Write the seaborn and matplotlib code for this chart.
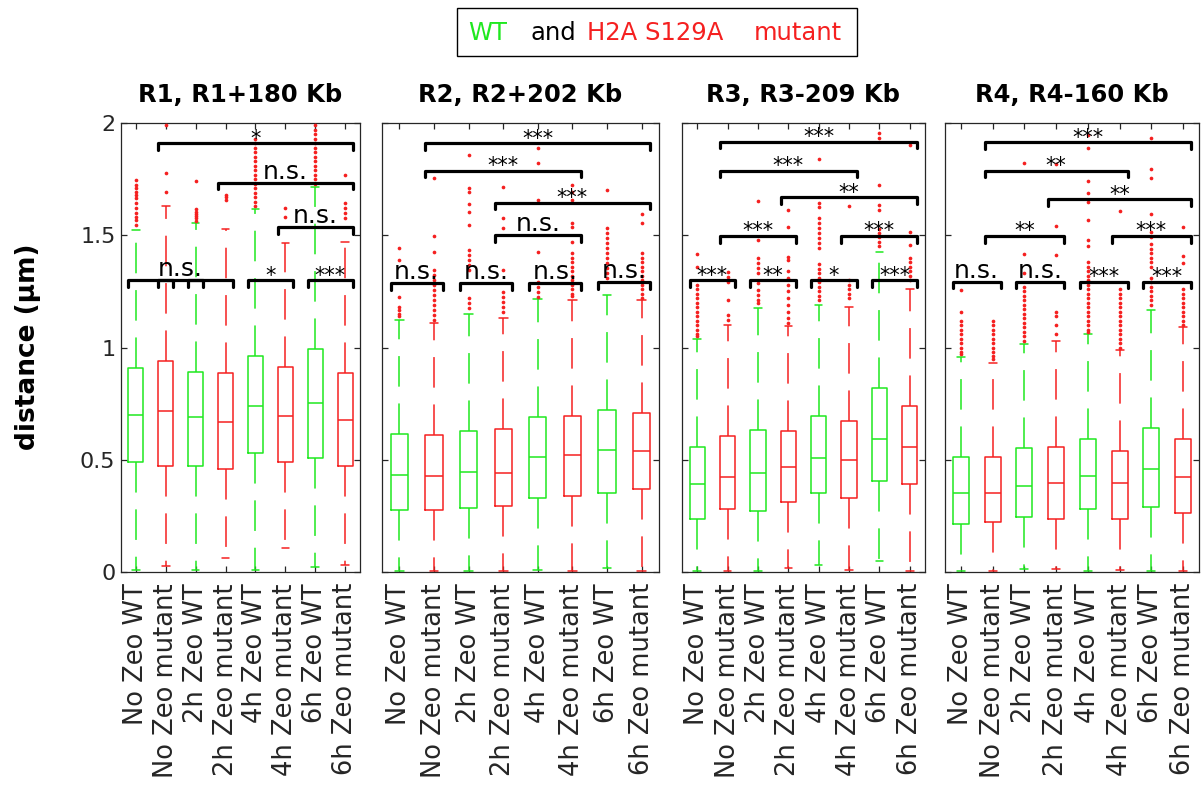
import numpy as np
import pandas as pd
import matplotlib
matplotlib.use("Agg")
import matplotlib.pyplot as plt
from matplotlib.patches import Rectangle
import seaborn as sns

# ---------------- data ----------------
titles = ["R1, R1+180 Kb", "R2, R2+202 Kb", "R3, R3-209 Kb", "R4, R4-160 Kb"]
conditions = ["No Zeo WT", "No Zeo mutant", "2h Zeo WT", "2h Zeo mutant",
              "4h Zeo WT", "4h Zeo mutant", "6h Zeo WT", "6h Zeo mutant"]
strains = ["WT", "mutant"] * 4

medians = [
    [0.699, 0.719, 0.690, 0.667, 0.738, 0.696, 0.754, 0.678],
    [0.432, 0.426, 0.444, 0.442, 0.512, 0.523, 0.542, 0.540],
    [0.392, 0.425, 0.440, 0.469, 0.508, 0.499, 0.592, 0.555],
    [0.350, 0.353, 0.385, 0.395, 0.429, 0.398, 0.459, 0.422],
]
q1 = [
    [0.491, 0.474, 0.472, 0.459, 0.529, 0.491, 0.506, 0.474],
    [0.276, 0.278, 0.284, 0.296, 0.331, 0.340, 0.353, 0.371],
    [0.236, 0.279, 0.270, 0.313, 0.350, 0.331, 0.407, 0.391],
    [0.212, 0.224, 0.244, 0.236, 0.279, 0.236, 0.291, 0.261],
]
q3 = [
    [0.907, 0.941, 0.889, 0.888, 0.964, 0.913, 0.992, 0.886],
    [0.615, 0.612, 0.629, 0.638, 0.689, 0.696, 0.722, 0.708],
    [0.558, 0.607, 0.634, 0.629, 0.696, 0.673, 0.818, 0.739],
    [0.512, 0.514, 0.551, 0.555, 0.592, 0.539, 0.640, 0.594],
]
whisk_hi = [
    [1.523, 1.632, 1.556, 1.526, 1.617, 1.464, 1.716, 1.471],
    [1.122, 1.111, 1.149, 1.133, 1.216, 1.213, 1.232, 1.211],
    [1.036, 1.100, 1.178, 1.096, 1.189, 1.182, 1.427, 1.259],
    [0.959, 0.930, 1.014, 1.029, 1.060, 0.989, 1.167, 1.090],
]
whisk_lo = [
    [0.008, 0.028, 0.008, 0.064, 0.008, 0.108, 0.024, 0.031],
    [0.005, 0.005, 0.005, 0.005, 0.008, 0.005, 0.020, 0.005],
    [0.005, 0.005, 0.005, 0.019, 0.031, 0.010, 0.050, 0.005],
    [0.005, 0.005, 0.012, 0.015, 0.005, 0.008, 0.005, 0.005],
]
outliers = [
    [
        [1.546, 1.568, 1.583, 1.598, 1.620, 1.643, 1.665, 1.680, 1.694, 1.709, 1.724, 1.746],
        [1.694, 1.776, 1.991],
        [1.565, 1.575, 1.585, 1.595, 1.605, 1.615, 1.741],
        [1.658, 1.670, 1.680],
        [1.63, 1.65, 1.67, 1.69, 1.71, 1.73, 1.75, 1.77, 1.79, 1.81, 1.83, 1.85, 1.87,
         1.89, 1.91, 1.93],
        [1.583, 1.620],
        [1.73, 1.75, 1.77, 1.79, 1.81, 1.83, 1.85, 1.87, 1.89, 1.91, 1.93, 1.95, 1.97, 1.99],
        [1.575, 1.598, 1.620, 1.643, 1.768],
    ],
    [
        [1.14, 1.15, 1.165, 1.18, 1.226, 1.390, 1.442],
        [1.122, 1.145, 1.167, 1.189, 1.211, 1.234, 1.256, 1.279, 1.301, 1.323, 1.345,
         1.427, 1.497, 1.757],
        [1.174, 1.196, 1.219, 1.345, 1.367, 1.390, 1.412, 1.434, 1.546, 1.605, 1.639,
         1.694, 1.709, 1.857],
        [1.159, 1.182, 1.204, 1.226, 1.249, 1.345, 1.531, 1.579, 1.716],
        [1.226, 1.249, 1.271, 1.293, 1.427, 1.657, 1.820, 1.887],
        [1.23, 1.24, 1.26, 1.28, 1.30, 1.32, 1.34, 1.36, 1.38, 1.40, 1.42, 1.471, 1.538,
         1.553, 1.657, 1.694, 1.724],
        [1.308, 1.330, 1.353, 1.375, 1.397, 1.419, 1.442, 1.464, 1.486, 1.508, 1.531, 1.701],
        [1.22, 1.24, 1.26, 1.28, 1.30, 1.32, 1.34, 1.36, 1.38, 1.40, 1.42, 1.553, 1.594],
    ],
    [
        [1.05, 1.06, 1.08, 1.10, 1.12, 1.14, 1.16, 1.18, 1.20, 1.22, 1.24, 1.26, 1.28,
         1.360, 1.417],
        [1.122, 1.145, 1.211, 1.293, 1.316, 1.338],
        [1.196, 1.211, 1.234, 1.256, 1.286, 1.330, 1.353, 1.375, 1.397, 1.479, 1.654],
        [1.11, 1.13, 1.16, 1.19, 1.22, 1.25, 1.28, 1.31, 1.34, 1.390, 1.404, 1.535, 1.612],
        [1.21, 1.23, 1.25, 1.27, 1.29, 1.31, 1.33, 1.35, 1.37, 1.441, 1.464, 1.486, 1.508,
         1.531, 1.553, 1.575, 1.627, 1.643, 1.838],
        [1.22, 1.24, 1.26, 1.28, 1.30, 1.629],
        [1.45, 1.47, 1.49, 1.51, 1.53, 1.612, 1.635, 1.724, 1.932, 1.957],
        [1.30, 1.32, 1.34, 1.36, 1.38, 1.40, 1.456, 1.516, 1.902],
    ],
    [
        [0.97, 0.98, 1.00, 1.02, 1.04, 1.06, 1.08, 1.10, 1.12, 1.160, 1.256],
        [0.95, 0.96, 0.98, 1.00, 1.02, 1.04, 1.06, 1.08, 1.10, 1.12],
        [1.03, 1.05, 1.07, 1.09, 1.11, 1.13, 1.15, 1.17, 1.19, 1.21, 1.23, 1.25, 1.27,
         1.331, 1.417, 1.820],
        [1.06, 1.10, 1.14, 1.16, 1.412, 1.541, 1.816],
        [1.07, 1.08, 1.10, 1.12, 1.14, 1.16, 1.18, 1.20, 1.22, 1.24, 1.26, 1.28, 1.30,
         1.32, 1.34, 1.36, 1.38, 1.45, 1.479, 1.568, 1.65, 1.69, 1.74, 1.887, 1.947],
        [1.00, 1.02, 1.04, 1.06, 1.08, 1.10, 1.12, 1.14, 1.16, 1.18, 1.20, 1.22, 1.24,
         1.26, 1.608],
        [1.19, 1.21, 1.23, 1.25, 1.27, 1.29, 1.31, 1.36, 1.38, 1.40, 1.42, 1.44, 1.46,
         1.49, 1.516, 1.594, 1.754, 1.794, 1.932],
        [1.10, 1.12, 1.14, 1.16, 1.18, 1.20, 1.22, 1.24, 1.26, 1.375, 1.409, 1.538],
    ],
]

# significance brackets: (box a, box b, height, label)
brackets = [
    [(1, 2, 1.300, ""), (2, 3, 1.300, "n.s."), (3, 4, 1.300, ""),
     (5, 6, 1.300, "*"), (7, 8, 1.300, "***"), (6, 8, 1.535, "n.s."),
     (4, 8, 1.734, "n.s."), (2, 8, 1.909, "*")],
    [(1, 2, 1.286, "n.s."), (3, 4, 1.286, "n.s."), (5, 6, 1.286, "n.s."),
     (7, 8, 1.290, "n.s."), (4, 6, 1.501, "n.s."), (4, 8, 1.645, "***"),
     (2, 6, 1.788, "***"), (2, 8, 1.909, "***")],
    [(1, 2, 1.300, "***"), (3, 4, 1.300, "**"), (5, 6, 1.300, "*"),
     (7, 8, 1.300, "***"), (2, 4, 1.497, "***"), (6, 8, 1.497, "***"),
     (4, 8, 1.669, "**"), (2, 6, 1.788, "***"), (2, 8, 1.917, "***")],
    [(1, 2, 1.293, "n.s."), (3, 4, 1.293, "n.s."), (5, 6, 1.293, "***"),
     (7, 8, 1.293, "***"), (2, 4, 1.497, "**"), (6, 8, 1.497, "***"),
     (4, 8, 1.660, "**"), (2, 6, 1.788, "**"), (2, 8, 1.914, "***")],
]

# ---------------- style ----------------
sns.set_style("ticks")
plt.rcParams["font.family"] = ["DejaVu Sans"]
green = "#1fe81f"
red = "#f52020"
box_colors = {"WT": green, "mutant": red}
axis_col = "#262626"

W, H = 1203, 790
fig = plt.figure(figsize=(W / 100, H / 100), dpi=100)

# axes extents in pixels (left, right), shared top/bottom
panel_px = [(121, 360), (382, 659), (682, 925), (945, 1199)]
top_px, bot_px = 123, 572

positions = np.arange(1, 9)
for p, (l, r) in enumerate(panel_px):
    ax = fig.add_axes([l / W, (H - bot_px) / H, (r - l) / W, (bot_px - top_px) / H])

    for i in range(8):
        col = box_colors[strains[i]]
        st = [dict(med=medians[p][i], q1=q1[p][i], q3=q3[p][i],
                   whislo=whisk_lo[p][i], whishi=whisk_hi[p][i], fliers=[])]
        ax.bxp(st, positions=[positions[i]], widths=0.5, capwidths=0.25,
               showfliers=False, manage_ticks=False,
               boxprops=dict(color=col, linewidth=1.1),
               medianprops=dict(color=col, linewidth=1.1),
               whiskerprops=dict(color=col, linewidth=1.1, linestyle=(0, (20, 11))),
               capprops=dict(color=col, linewidth=1.1))

    fl = pd.DataFrame([(positions[i], v) for i in range(8) for v in outliers[p][i]],
                      columns=["pos", "dist"])
    sns.scatterplot(data=fl, x="pos", y="dist", ax=ax, color=red, s=7,
                    linewidth=0, marker="o", zorder=3, legend=False)

    for a, b, y, lab in brackets[p]:
        ax.plot([a - 0.25, a - 0.25, b + 0.25, b + 0.25], [y - 0.03, y, y, y - 0.03],
                color="black", linewidth=2.3, solid_capstyle="round",
                solid_joinstyle="round", zorder=4)
        if lab:
            big = lab == "n.s."
            ax.annotate(lab, xy=((a + b) / 2, y), xytext=(0, 3 if big else -1),
                        textcoords="offset points", ha="center", va="baseline",
                        fontsize=18 if big else 15, color="black", zorder=5)

    ax.set_xlim(0.5, 8.5)
    ax.set_ylim(0, 2)
    ax.set_xticks(positions)
    ax.set_xticklabels(conditions, rotation=90, fontsize=18.5, color=axis_col)
    ax.set_yticks([0, 0.5, 1, 1.5, 2])
    if p == 0:
        ax.set_yticklabels(["0", "0.5", "1", "1.5", "2"], fontsize=16, color=axis_col)
    else:
        ax.set_yticklabels([])
    ax.tick_params(direction="in", top=True, right=True, length=4, width=0.9,
                   color=axis_col)
    ax.tick_params(axis="x", pad=8)
    ax.tick_params(axis="y", pad=4)
    for sp in ax.spines.values():
        sp.set_visible(True)
        sp.set_color(axis_col)
        sp.set_linewidth(0.9)
    ax.set_xlabel("")
    ax.set_ylabel("")
    ax.set_title(titles[p], fontsize=17.5, fontweight="bold", pad=15, color="black")

fig.text(28 / W, (H - 347) / H, "distance (\u00b5m)", rotation=90, ha="center",
         va="center", fontsize=19, fontweight="bold", color="black")

# legend-like caption box at the top
fig.patches.append(Rectangle((457 / W, (H - 56) / H), 400 / W, 48 / H,
                             transform=fig.transFigure, fill=False,
                             edgecolor="black", linewidth=1.0))
yc = (H - 33) / H
fig.text(468 / W, yc, "WT", color=green, fontsize=17.5, va="center", ha="left")
fig.text(530 / W, yc, "and", color="black", fontsize=17.5, va="center", ha="left")
fig.text(587 / W, yc, "H2A S129A", color=red, fontsize=17.5, va="center", ha="left")
fig.text(754 / W, yc, "mutant", color=red, fontsize=17.5, va="center", ha="left")

fig.savefig("out.png", dpi=100)
